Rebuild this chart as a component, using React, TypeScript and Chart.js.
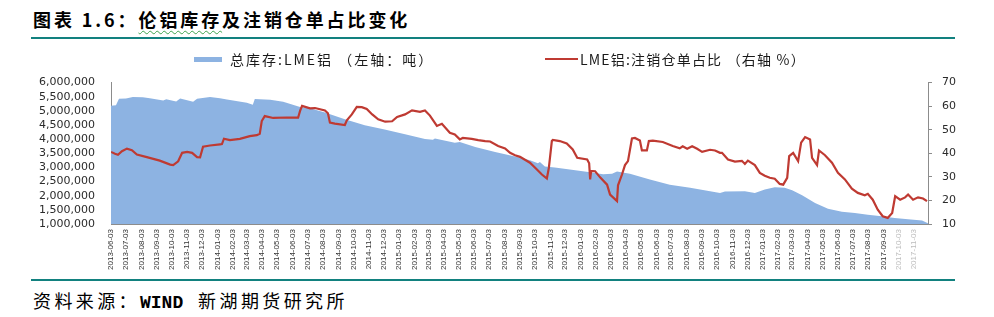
import React, { useEffect, useRef } from 'react';
import { Chart, registerables } from 'chart.js';

Chart.register(...registerables);

// Axis origin and right end of the date axis
const START_DATE = '2013-06-03';
const END_DATE = '2017-12-01';

// Monthly tick labels on the date axis
const tickLabels = [
  '2013-06-03', '2013-07-03', '2013-08-03', '2013-09-03', '2013-10-03', '2013-11-03', '2013-12-03',
  '2014-01-03', '2014-02-03', '2014-03-03', '2014-04-03', '2014-05-03', '2014-06-03',
  '2014-07-03', '2014-08-03', '2014-09-03', '2014-10-03', '2014-11-03', '2014-12-03',
  '2015-01-03', '2015-02-03', '2015-03-03', '2015-04-03', '2015-05-03', '2015-06-03',
  '2015-07-03', '2015-08-03', '2015-09-03', '2015-10-03', '2015-11-03', '2015-12-03',
  '2016-01-03', '2016-02-03', '2016-03-03', '2016-04-03', '2016-05-03', '2016-06-03',
  '2016-07-03', '2016-08-03', '2016-09-03', '2016-10-03', '2016-11-03', '2016-12-03',
  '2017-01-03', '2017-02-03', '2017-03-03', '2017-04-03', '2017-05-03', '2017-06-03',
  '2017-07-03', '2017-08-03', '2017-09-03', '2017-10-03', '2017-11-03',
];

// LME aluminium total stocks (tonnes)
const stockDates = [
  '2013-06-03', '2013-06-13', '2013-06-19', '2013-07-03', '2013-07-17', '2013-08-06', '2013-08-20',
  '2013-09-16', '2013-09-22', '2013-10-12', '2013-10-20', '2013-11-15', '2013-11-23', '2013-12-19',
  '2014-01-08', '2014-01-22', '2014-03-03', '2014-03-15', '2014-03-19', '2014-04-19', '2014-05-15',
  '2014-06-18', '2014-07-08', '2014-08-07', '2014-09-16', '2014-10-26', '2014-12-05', '2015-01-15',
  '2015-02-24', '2015-03-12', '2015-03-16', '2015-04-25', '2015-05-05', '2015-06-05', '2015-07-15',
  '2015-08-24', '2015-09-23', '2015-10-09', '2015-10-13', '2015-10-23', '2015-11-12', '2015-12-12',
  '2016-01-22', '2016-02-17', '2016-03-06', '2016-03-16', '2016-04-11', '2016-05-21', '2016-06-30',
  '2016-08-10', '2016-09-19', '2016-10-09', '2016-10-19', '2016-11-28', '2016-12-18', '2017-01-07',
  '2017-01-27', '2017-02-16', '2017-03-03', '2017-03-23', '2017-04-18', '2017-05-14', '2017-06-11',
  '2017-07-07', '2017-08-02', '2017-08-30', '2017-09-25', '2017-10-22', '2017-11-19', '2017-12-01',
];
const stockValues = [
  5180000, 5200000, 5430000, 5440000, 5490000, 5480000, 5450000,
  5370000, 5410000, 5330000, 5440000, 5320000, 5430000, 5490000,
  5450000, 5400000, 5290000, 5220000, 5420000, 5390000, 5320000,
  5140000, 5090000, 4940000, 4700000, 4490000, 4340000, 4170000,
  4010000, 3980000, 4020000, 3870000, 3900000, 3720000, 3550000,
  3390000, 3250000, 3150000, 3190000, 3030000, 3000000, 2930000,
  2830000, 2760000, 2780000, 2860000, 2780000, 2570000, 2390000,
  2280000, 2160000, 2100000, 2150000, 2160000, 2100000, 2220000,
  2300000, 2280000, 2190000, 2020000, 1740000, 1540000, 1430000,
  1390000, 1330000, 1270000, 1210000, 1170000, 1120000, 1030000,
];

// Cancelled warrants as a share of LME aluminium stocks (%)
const ratioDates = [
  '2013-06-03', '2013-06-11', '2013-06-17', '2013-06-25', '2013-07-05', '2013-07-15', '2013-07-25',
  '2013-08-14', '2013-09-09', '2013-09-30', '2013-10-06', '2013-10-16', '2013-10-24', '2013-11-03',
  '2013-11-13', '2013-11-23', '2013-11-29', '2013-12-05', '2013-12-19', '2014-01-08', '2014-01-12',
  '2014-01-16', '2014-01-28', '2014-02-17', '2014-03-09', '2014-03-23', '2014-03-29', '2014-04-02',
  '2014-04-08', '2014-04-25', '2014-05-23', '2014-06-14', '2014-06-18', '2014-06-22', '2014-07-08',
  '2014-07-18', '2014-08-07', '2014-08-13', '2014-08-17', '2014-08-27', '2014-09-16', '2014-09-20',
  '2014-09-30', '2014-10-10', '2014-10-20', '2014-10-30', '2014-11-10', '2014-11-22', '2014-12-06',
  '2014-12-20', '2014-12-30', '2015-01-15', '2015-01-29', '2015-02-14', '2015-02-24', '2015-03-06',
  '2015-03-20', '2015-03-30', '2015-04-15', '2015-04-25', '2015-05-05', '2015-05-11', '2015-05-29',
  '2015-06-11', '2015-06-25', '2015-07-05', '2015-07-21', '2015-08-04', '2015-08-14', '2015-08-24',
  '2015-09-03', '2015-09-23', '2015-10-07', '2015-10-17', '2015-10-27', '2015-10-31', '2015-11-06',
  '2015-11-08', '2015-11-22', '2015-12-06', '2015-12-18', '2015-12-27', '2016-01-16', '2016-01-20',
  '2016-01-22', '2016-01-24', '2016-02-01', '2016-02-11', '2016-02-25', '2016-03-02', '2016-03-16',
  '2016-03-18', '2016-03-26', '2016-04-01', '2016-04-07', '2016-04-15', '2016-04-21', '2016-05-01',
  '2016-05-05', '2016-05-15', '2016-05-19', '2016-05-27', '2016-06-16', '2016-07-06', '2016-07-20',
  '2016-07-26', '2016-08-04', '2016-08-14', '2016-08-24', '2016-09-03', '2016-09-19', '2016-09-29',
  '2016-10-09', '2016-10-13', '2016-10-25', '2016-11-08', '2016-11-22', '2016-11-28', '2016-12-04',
  '2016-12-18', '2016-12-28', '2017-01-07', '2017-01-17', '2017-01-27', '2017-02-06', '2017-02-13',
  '2017-02-21', '2017-02-25', '2017-03-05', '2017-03-15', '2017-03-21', '2017-03-29', '2017-04-08',
  '2017-04-12', '2017-04-22', '2017-04-26', '2017-05-08', '2017-05-22', '2017-06-03', '2017-06-17',
  '2017-07-01', '2017-07-13', '2017-07-27', '2017-08-02', '2017-08-12', '2017-08-22', '2017-09-01',
  '2017-09-11', '2017-09-20', '2017-09-26', '2017-10-06', '2017-10-16', '2017-10-22', '2017-11-01',
  '2017-11-11', '2017-11-21', '2017-11-29',
];
const ratioValues = [
  40.6, 39.8, 39.4, 40.9, 42.0, 41.3, 39.5,
  38.4, 36.9, 35.2, 35.0, 36.6, 40.2, 40.6,
  40.2, 38.4, 38.3, 42.8, 43.3, 43.8, 43.9,
  46.2, 45.6, 46.1, 47.3, 47.7, 48.3, 53.7,
  55.8, 55.0, 55.2, 55.1, 58.0, 60.1, 59.1,
  59.2, 58.2, 57.0, 53.0, 52.6, 52.0, 54.0,
  56.5, 59.7, 59.6, 58.8, 56.5, 54.4, 53.4,
  53.6, 55.4, 56.5, 58.2, 57.6, 58.2, 56.0,
  51.6, 52.5, 48.7, 48.0, 45.9, 46.5, 46.1,
  45.6, 45.2, 45.0, 43.1, 42.1, 40.2, 39.2,
  38.5, 36.0, 33.1, 31.0, 29.3, 33.8, 45.2,
  45.7, 45.2, 44.2, 41.6, 38.1, 37.4, 35.8,
  28.9, 32.5, 32.4, 29.8, 26.7, 22.5, 19.7,
  26.4, 31.0, 35.0, 36.7, 46.3, 46.5, 45.4,
  41.2, 41.2, 45.2, 45.4, 44.8, 43.1, 42.1,
  43.0, 41.9, 43.0, 41.9, 40.6, 41.5, 41.2,
  40.2, 40.2, 37.4, 36.5, 36.8, 35.5, 36.9,
  35.0, 31.7, 30.5, 29.6, 29.2, 27.0, 26.7,
  29.6, 38.8, 40.2, 36.7, 44.5, 46.9, 45.9,
  38.1, 35.0, 41.2, 39.2, 36.0, 31.7, 28.9,
  25.0, 23.2, 22.2, 22.8, 20.3, 16.1, 13.3,
  12.6, 14.7, 21.8, 20.3, 21.3, 22.5, 20.3,
  21.3, 20.8, 19.7,
];

const STOCK_BLUE = '#8DB3E2';
const RATIO_RED = '#BF3A32';
const AXIS_GREY = '#8c8c8c';
const RULE_TEAL = '#12817f';
const CJK = '"Noto Sans CJK SC", "Noto Sans", sans-serif';

const toUtc = (s: string) => {
  const [y, m, d] = s.split('-').map(Number);
  return Date.UTC(y, m - 1, d);
};
const dayOf = (s: string) => Math.round((toUtc(s) - toUtc(START_DATE)) / 86400000);

export default function App() {
  const canvasRef = useRef<HTMLCanvasElement>(null);

  useEffect(() => {
    const canvas = canvasRef.current;
    if (!canvas) return;

    const chart = new Chart(canvas, {
      type: 'line',
      data: {
        datasets: [
          {
            label: 'LME铝:注销仓单占比',
            data: ratioDates.map((d, i) => ({ x: dayOf(d), y: ratioValues[i] })),
            yAxisID: 'y1',
            borderColor: RATIO_RED,
            borderWidth: 2.2,
            pointRadius: 0,
            fill: false,
            tension: 0,
          },
          {
            label: '总库存:LME铝',
            data: stockDates.map((d, i) => ({ x: dayOf(d), y: stockValues[i] })),
            yAxisID: 'y',
            borderWidth: 0,
            borderColor: STOCK_BLUE,
            backgroundColor: STOCK_BLUE,
            pointRadius: 0,
            fill: 'start',
            tension: 0,
          },
        ],
      },
      options: {
        animation: false,
        responsive: true,
        maintainAspectRatio: false,
        layout: { padding: 0 },
        plugins: {
          legend: { display: false },
          tooltip: { enabled: false },
        },
        scales: {
          x: {
            type: 'linear',
            min: 0,
            max: dayOf(END_DATE),
            afterBuildTicks: (scale: any) => {
              scale.ticks = tickLabels.map((t) => ({ value: dayOf(t) }));
            },
            afterFit: (scale: any) => {
              scale.height = 56;
            },
            ticks: {
              autoSkip: false,
              minRotation: 90,
              maxRotation: 90,
              padding: 5,
              font: { family: '"Liberation Sans", Arial, sans-serif', size: 8 },
              color: (ctx: any) => (ctx.index >= 52 ? '#bdbdbd' : '#333333'),
              callback: (_v: any, i: number) => tickLabels[i],
            },
            grid: { drawOnChartArea: false, drawTicks: false },
            border: { color: AXIS_GREY, width: 1 },
          },
          y: {
            position: 'left',
            min: 1000000,
            max: 6000000,
            afterFit: (scale: any) => {
              scale.width = 111;
            },
            ticks: {
              stepSize: 500000,
              autoSkip: false,
              padding: 16,
              font: { family: '"DejaVu Sans", sans-serif', size: 11 },
              color: '#2b2b2b',
              callback: (v: any) => Number(v).toLocaleString('en-US'),
            },
            grid: { drawOnChartArea: false, drawTicks: false },
            border: { color: AXIS_GREY, width: 1 },
          },
          y1: {
            position: 'right',
            min: 10,
            max: 70,
            afterFit: (scale: any) => {
              scale.width = 66;
            },
            ticks: {
              stepSize: 10,
              autoSkip: false,
              padding: 10,
              font: { family: '"DejaVu Sans", sans-serif', size: 11 },
              color: '#2b2b2b',
            },
            grid: { drawOnChartArea: false, drawTicks: true, tickLength: 4, color: AXIS_GREY },
            border: { color: AXIS_GREY, width: 1 },
          },
        },
      },
    } as any);

    return () => chart.destroy();
  }, []);

  const legendText: React.CSSProperties = {
    position: 'absolute',
    top: 49,
    fontFamily: CJK,
    fontSize: 14,
    lineHeight: '20px',
    color: '#1a1a1a',
    whiteSpace: 'nowrap',
  };

  return (
    <div
      style={{
        position: 'absolute',
        left: 0,
        top: 0,
        width: 994,
        height: 317,
        background: '#ffffff',
        overflow: 'hidden',
      }}
    >
      <div
        style={{
          position: 'absolute',
          left: 33,
          top: 8,
          fontFamily: CJK,
          fontWeight: 700,
          fontSize: 18,
          lineHeight: '22px',
          letterSpacing: 2.9,
          color: '#000',
          whiteSpace: 'nowrap',
        }}
      >
        图表 1.6：
        <span
          style={{
            textDecoration: 'underline wavy #3fa34d',
            textDecorationThickness: 1,
            textUnderlineOffset: 3,
          }}
        >
          伦铝库存
        </span>
        及注销仓单占比变化
      </div>
      <div style={{ position: 'absolute', left: 31, top: 37, width: 924, height: 2, background: RULE_TEAL }} />

      <div style={{ position: 'absolute', left: 0, top: 60, width: 994, height: 220 }}>
        <canvas ref={canvasRef} />
      </div>

      <div style={{ position: 'absolute', left: 194, top: 57, width: 28, height: 5, background: STOCK_BLUE }} />
      <div style={{ ...legendText, left: 230, letterSpacing: 2 }}>总库存:LME铝 （左轴：吨）</div>
      <div style={{ position: 'absolute', left: 545, top: 58, width: 33, height: 2, background: RATIO_RED }} />
      <div style={{ ...legendText, left: 580, letterSpacing: 1.2 }}>LME铝:注销仓单占比 （右轴 %）</div>

      <div style={{ position: 'absolute', left: 31, top: 279, width: 924, height: 2, background: RULE_TEAL }} />
      <div
        style={{
          position: 'absolute',
          left: 33,
          top: 288,
          fontFamily: CJK,
          fontSize: 18,
          lineHeight: '24px',
          letterSpacing: 3.4,
          color: '#000',
          whiteSpace: 'nowrap',
        }}
      >
        资料来源：
        <span style={{ fontFamily: '"Liberation Mono", monospace', fontWeight: 700, fontSize: 18, letterSpacing: 0 }}>
          WIND
        </span>
        {'\u00a0\u00a0'}新湖期货研究所
      </div>
    </div>
  );
}
